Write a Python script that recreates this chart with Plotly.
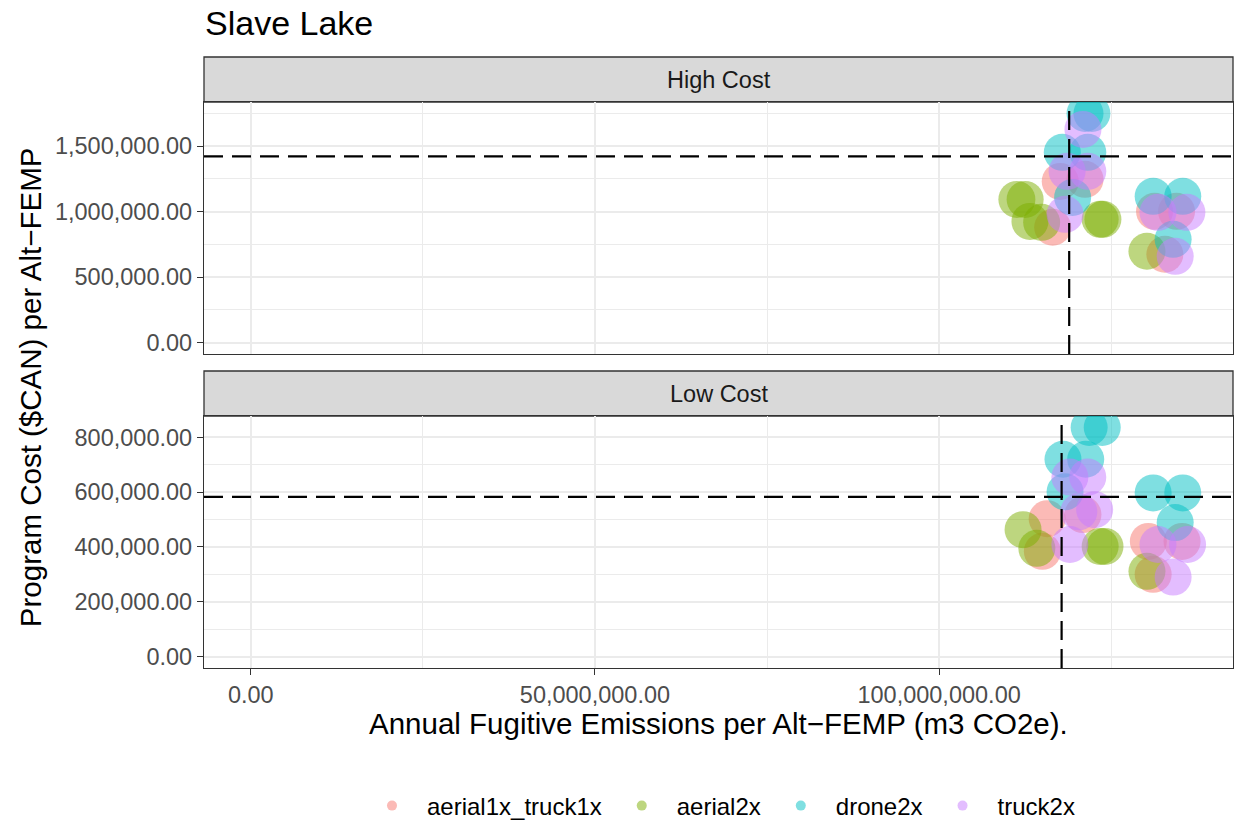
import plotly.graph_objects as go
from plotly.subplots import make_subplots

# ---------------- data ----------------
methods = ["aerial1x_truck1x", "aerial2x", "drone2x", "truck2x"]
colors = ["#F8766D", "#7CAE00", "#00BFC4", "#C77CFF"]

# High Cost panel: x in m3 CO2e (millions), y in $CAN (thousands)
high_x = {
    "aerial1x_truck1x": [117.6, 121.2, 116.5, 131.3, 134.5, 132.8],
    "aerial2x": [111.3, 112.5, 113.2, 114.9, 123.4, 123.8, 130.2],
    "drone2x": [121.2, 122.2, 117.9, 121.6, 119.4, 131.1, 135.4, 134.0],
    "truck2x": [120.9, 118.6, 121.6, 118.3, 131.8, 136.0, 134.3],
}
high_y = {
    "aerial1x_truck1x": [1230, 1246, 880, 1002, 1002, 674],
    "aerial2x": [1093, 1093, 925, 918, 941, 941, 697],
    "drone2x": [1749, 1749, 1452, 1452, 1108, 1116, 1116, 788],
    "truck2x": [1627, 1307, 1307, 979, 994, 994, 658],
}
# Low Cost panel
low_x = {
    "aerial1x_truck1x": [115.7, 115.0, 120.9, 130.4, 135.3, 131.1],
    "aerial2x": [112.2, 114.2, 123.4, 124.1, 130.2],
    "drone2x": [121.8, 123.7, 118.0, 121.3, 118.3, 131.1, 135.4, 134.3],
    "truck2x": [119.0, 121.6, 120.3, 122.6, 119.0, 131.8, 136.1, 134.0],
}
low_y = {
    "aerial1x_truck1x": [503, 384, 518, 420, 420, 300],
    "aerial2x": [463, 395, 402, 402, 311],
    "drone2x": [836, 836, 720, 720, 601, 597, 597, 489],
    "truck2x": [655, 655, 528, 536, 409, 409, 409, 290],
}
# reference (mean) lines
high_vline, high_hline = 118.9, 1421
low_vline, low_hline = 117.8, 583

x_range = [-6.8e6, 142.7e6]
high_range = [-87.5e3, 1836.5e3]
low_range = [-41.8e3, 877.8e3]

# ---------------- figure ----------------
fig = make_subplots(rows=2, cols=1, shared_xaxes=True)

for m, c in zip(methods, colors):
    fig.add_trace(go.Scatter(
        x=[v * 1e6 for v in high_x[m]], y=[v * 1e3 for v in high_y[m]],
        mode="markers", name=m, showlegend=False,
        marker=dict(size=37, color=c, opacity=0.5, line=dict(width=0)),
        hoverinfo="skip"), row=1, col=1)
    fig.add_trace(go.Scatter(
        x=[v * 1e6 for v in low_x[m]], y=[v * 1e3 for v in low_y[m]],
        mode="markers", name=m, showlegend=False,
        marker=dict(size=37, color=c, opacity=0.5, line=dict(width=0)),
        hoverinfo="skip"), row=2, col=1)
    # legend entry
    fig.add_trace(go.Scatter(
        x=[None], y=[None], mode="markers", name=m, showlegend=True,
        marker=dict(size=10, color=c, opacity=0.5)), row=1, col=1)

dash = "19px,9px"
for (xr, yr, vl, hl) in [("x", "y", high_vline, high_hline),
                         ("x2", "y2", low_vline, low_hline)]:
    fig.add_shape(type="line", xref=xr, yref=yr + " domain",
                  x0=vl * 1e6, x1=vl * 1e6, y0=0, y1=1,
                  line=dict(color="black", width=2.2, dash=dash))
    fig.add_shape(type="line", xref=xr + " domain", yref=yr,
                  x0=0, x1=1, y0=hl * 1e3, y1=hl * 1e3,
                  line=dict(color="black", width=2.2, dash=dash))

# geometry (paper coords)
H = 611.0
top_strip = [(668 - 102) / H, 1.0]
top_panel = [(668 - 354) / H, (668 - 102) / H]
low_strip = [(668 - 416) / H, (668 - 371) / H]
low_panel = [0.0, (668 - 416) / H]

for (y0, y1), label in [(top_strip, "High Cost"), (low_strip, "Low Cost")]:
    fig.add_shape(type="rect", xref="paper", yref="paper",
                  x0=0, x1=1, y0=y0, y1=y1,
                  fillcolor="#D9D9D9", line=dict(color="#333333", width=1.3),
                  layer="below")
    fig.add_annotation(text=label, xref="paper", yref="paper",
                       x=0.5, y=(y0 + y1) / 2, showarrow=False,
                       font=dict(size=23.5, color="#1A1A1A"),
                       xanchor="center", yanchor="middle")

grid = "#EBEBEB"
axis_common = dict(showline=True, mirror=True, linecolor="#333333", linewidth=1.3,
                   showgrid=True, gridcolor=grid, gridwidth=1.6, zeroline=False,
                   tickfont=dict(size=23.5, color="#4D4D4D"),
                   tickcolor="#333333", ticklen=6, tickwidth=1.3)

fig.update_xaxes(**axis_common, range=x_range, tickformat=",.2f",
                 tickvals=[0, 50e6, 100e6],
                 minor=dict(tickvals=[25e6, 75e6, 125e6], showgrid=True,
                            gridcolor=grid, gridwidth=0.8))
fig.update_xaxes(ticks="", showticklabels=False, row=1, col=1)
fig.update_xaxes(ticks="outside", showticklabels=True, row=2, col=1)

fig.update_yaxes(**axis_common, ticks="outside", tickformat=",.2f")
fig.update_yaxes(domain=top_panel, range=high_range,
                 tickvals=[0, 500e3, 1000e3, 1500e3],
                 minor=dict(tickvals=[250e3, 750e3, 1250e3, 1750e3], showgrid=True,
                            gridcolor=grid, gridwidth=0.8),
                 row=1, col=1)
fig.update_yaxes(domain=low_panel, range=low_range,
                 tickvals=[0, 200e3, 400e3, 600e3, 800e3],
                 minor=dict(tickvals=[100e3, 300e3, 500e3, 700e3], showgrid=True,
                            gridcolor=grid, gridwidth=0.8),
                 row=2, col=1)

fig.add_annotation(text="Program Cost ($CAN) per Alt\u2212FEMP", xref="paper", yref="paper",
                   x=-0.168, y=(668 - 387) / H, textangle=-90, showarrow=False,
                   font=dict(size=29.5, color="black"), xanchor="center", yanchor="middle")
fig.add_annotation(text="Annual Fugitive Emissions per Alt\u2212FEMP (m3 CO2e).",
                   xref="paper", yref="paper", x=0.5, y=(668 - 723) / H,
                   showarrow=False, font=dict(size=29.5, color="black"),
                   xanchor="center", yanchor="middle")

fig.update_layout(
    width=1238, height=823,
    margin=dict(l=204, r=5, t=57, b=155, autoexpand=False),
    paper_bgcolor="white", plot_bgcolor="white",
    font=dict(family="Liberation Sans, Arial, sans-serif"),
    title=dict(text="Slave Lake", x=205 / 1238, xanchor="left",
               y=1 - 23 / 823, yanchor="middle",
               font=dict(size=34, color="black")),
    legend=dict(orientation="h", x=0.5, xanchor="center",
                y=(668 - 806) / H, yanchor="middle",
                font=dict(size=24, color="black"),
                itemwidth=60, tracegroupgap=0),
)

fig.write_html("out.html")
